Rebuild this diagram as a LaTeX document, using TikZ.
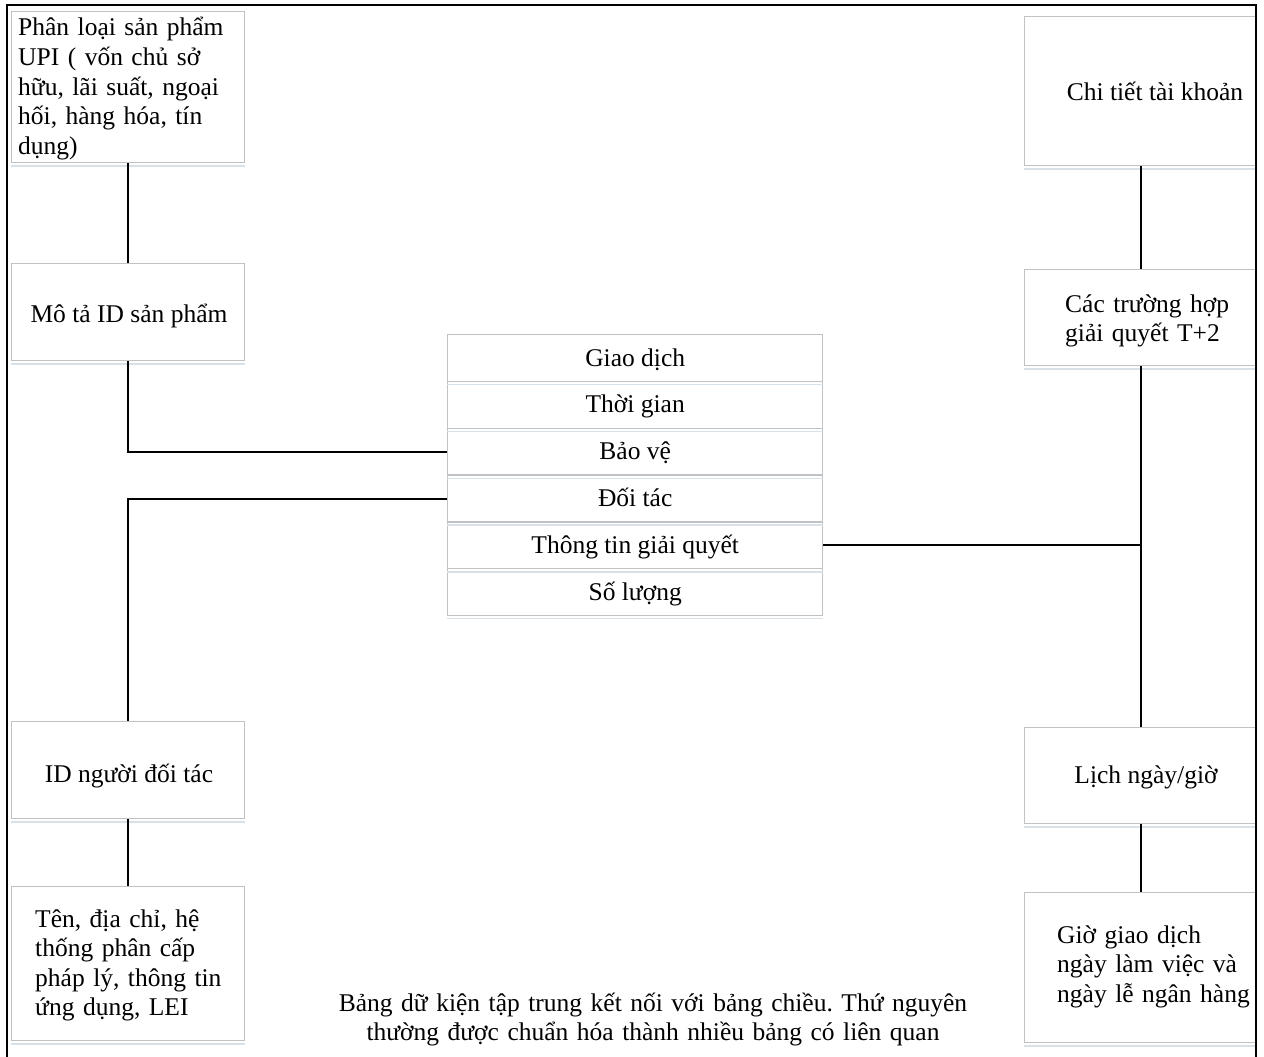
\documentclass[tikz,border=0pt]{standalone}
\usepackage{fontspec}
\setmainfont{Liberation Serif}
\frenchspacing
\definecolor{boxedge}{RGB}{192,194,197}
\definecolor{boxshade}{RGB}{216,224,232}
\begin{document}
\begin{tikzpicture}[x=1pt,y=-1pt,
  txt/.style={font=\fontsize{25.5}{29.6}\selectfont, inner sep=0pt},
  cell/.style={draw=boxedge, line width=1.4pt, fill=white, inner sep=0pt, anchor=north west},
  rowcell/.style={cell, minimum width=375pt, minimum height=46.8pt, txt, text height=17pt, text depth=1pt},
  link/.style={draw=black, line width=2pt},
  frame/.style={draw=black, line width=2.4pt},
  shade/.style={draw=boxshade, line width=1.5pt}]
\useasboundingbox (0,0) rectangle (1264,1057);

% left column: product and counterparty dimensions
\node[cell, minimum width=233pt, minimum height=151pt] (upi) at (11,11) {};
\node[cell, minimum width=233pt, minimum height=97pt] (prodid) at (11,263) {};
\node[cell, minimum width=233pt, minimum height=97pt] (cptyid) at (11,721) {};
\node[cell, minimum width=233pt, minimum height=154pt] (cptyinfo) at (11,886) {};

% right column: account and calendar dimensions
\node[cell, minimum width=232pt, minimum height=149pt] (acct) at (1024,16) {};
\node[cell, minimum width=232pt, minimum height=96pt] (settle) at (1024,269) {};
\node[cell, minimum width=232pt, minimum height=96pt] (cal) at (1024,727) {};
\node[cell, minimum width=232pt, minimum height=150pt] (hours) at (1024,892) {};

% central fact table
\node[rowcell] (f1) at (447,334) {Giao dịch};
\node[rowcell] (f2) at (447,380.8) {Thời gian};
\node[rowcell] (f3) at (447,427.6) {Bảo vệ};
\node[rowcell] (f4) at (447,474.4) {Đối tác};
\node[rowcell] (f5) at (447,521.2) {Thông tin giải quyết};
\node[rowcell] (f6) at (447,568) {Số lượng};

% soft line under each box
\foreach \n in {upi,prodid,cptyid,cptyinfo,acct,settle,cal,hours,f1,f2,f3,f4,f5,f6}
  \draw[shade] ([yshift=-2.5pt]\n.south west) -- ([yshift=-2.5pt]\n.south east);

% box texts
\node[txt, anchor=base west, text width=230pt, align=left] (upitxt) at (18,36)
  {Phân loại sản phẩm\\UPI ( vốn chủ sở\\hữu, lãi suất, ngoại\\hối, hàng hóa, tín\\dụng)};
\node[txt, anchor=base] (prodidtxt) at (129,322) {Mô tả ID sản phẩm};
\node[txt, anchor=base] (cptyidtxt) at (129,782) {ID người đối tác};
\node[txt, anchor=base west, text width=210pt, align=left] (cptyinfotxt) at (35,927)
  {Tên, địa chỉ, hệ\\thống phân cấp\\pháp lý, thông tin\\ứng dụng, LEI};
\node[txt, anchor=base] (accttxt) at (1155,100) {Chi tiết tài khoản};
\node[txt, anchor=base west, text width=190pt, align=left] (settletxt) at (1065,312)
  {Các trường hợp\\giải quyết T+2};
\node[txt, anchor=base] (caltxt) at (1146,783) {Lịch ngày/giờ};
\node[txt, anchor=base west, text width=195pt, align=left] (hourstxt) at (1057,943)
  {Giờ giao dịch\\ngày làm việc và\\ngày lễ ngân hàng};
\node[txt, anchor=base, text width=700pt, align=center] (note) at (653,1011)
  {Bảng dữ kiện tập trung kết nối với bảng chiều. Thứ nguyên\\thường được chuẩn hóa thành nhiều bảng có liên quan};

% connectors
\draw[link] (upi.south) -- (prodid.north);
\draw[link] (prodid.south) |- (f3.west);
\draw[link] (f4.west) -| (cptyid.north);
\draw[link] (cptyid.south) -- (cptyinfo.north);
\draw[link] (acct.south) -- (settle.north);
\draw[link] (settle.south) -- (cal.north);
\draw[link] (f5.east) -- (f5.east -| settle.south);
\draw[link] (cal.south) -- (hours.north);

% outer frame, open at the bottom
\draw[frame] (7,1057) -- (7,5) -- (1256,5) -- (1256,1057);
\end{tikzpicture}
\end{document}
